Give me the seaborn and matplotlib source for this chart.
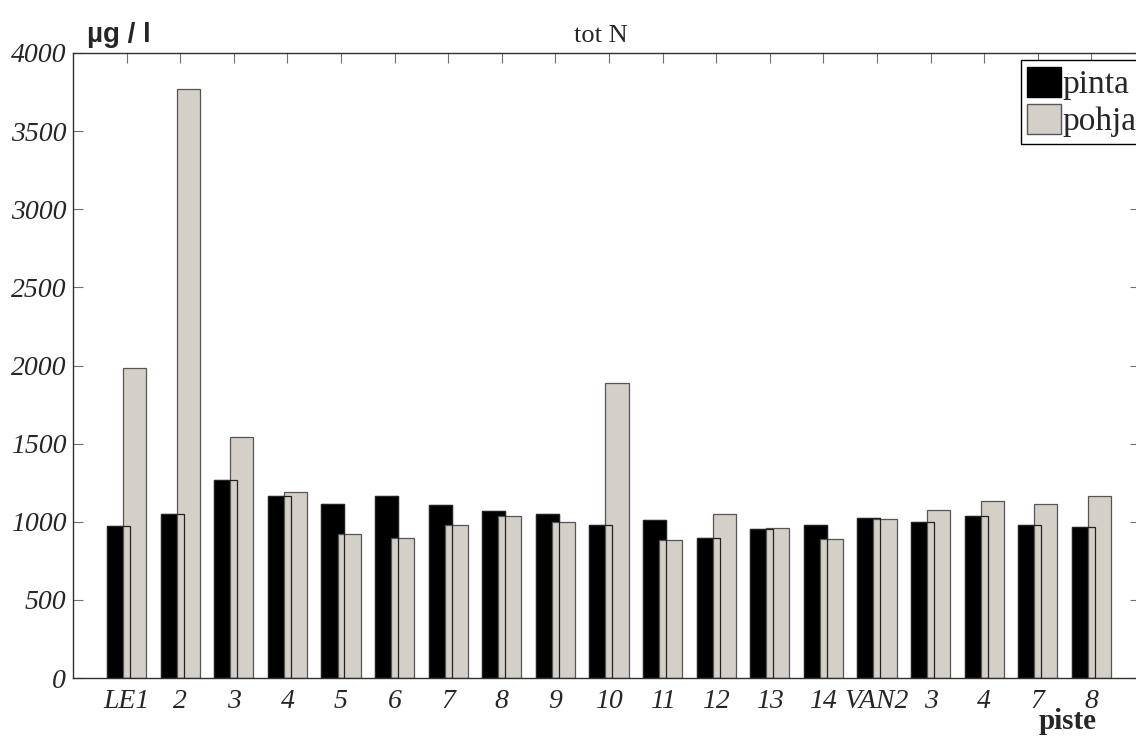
import matplotlib
matplotlib.use('Agg')
import matplotlib.pyplot as plt
import seaborn as sns
import numpy as np
import pandas as pd
from matplotlib.patches import Patch

# ---- data ----
sites = ['LE1', '2', '3', '4', '5', '6', '7', '8', '9', '10', '11', '12', '13',
         '14', 'VAN2', '3', '4', '7', '8']
pinta = [973, 1048, 1267, 1163, 1111, 1163, 1105, 1069, 1052, 977, 1011, 894,
         952, 977, 1026, 998, 1037, 977, 966]
pohja = [1984, 3768, 1542, 1188, 920, 898, 977, 1035, 998, 1888, 881, 1052,
         957, 888, 1015, 1073, 1131, 1114, 1163]
yticks = [0, 500, 1000, 1500, 2000, 2500, 3000, 3500, 4000]
series_names = ['pinta', 'pohja']

sns.set_style('ticks')
plt.rcParams['font.family'] = ['Liberation Serif', 'DejaVu Serif']

W, H = 1136, 736
fig = plt.figure(figsize=(W / 100, H / 100), dpi=100)
fig.patch.set_facecolor('white')
ax = fig.add_axes([73 / W, 1 - 678 / H, 1066.6 / W, 625 / H])

grey = '#d4d0c8'
edge_grey = '#555555'
idx = np.arange(1, len(sites) + 1)
df = pd.DataFrame({'pos_a': idx - 0.15, 'pos_b': idx + 0.15,
                   'pinta': pinta, 'pohja': pohja})

# pinta fill
sns.barplot(data=df, x='pos_a', y='pinta', native_scale=True, width=0.43,
            color='black', saturation=1, edgecolor='black', linewidth=0.9,
            errorbar=None, ax=ax, zorder=1)
# pohja on top
sns.barplot(data=df, x='pos_b', y='pohja', native_scale=True, width=0.43,
            color=grey, saturation=1, edgecolor=edge_grey, linewidth=0.9,
            errorbar=None, ax=ax, zorder=2)
# pinta outlines over pohja
sns.barplot(data=df, x='pos_a', y='pinta', native_scale=True, width=0.43,
            color='#222222', saturation=1, fill=False, linewidth=0.9,
            errorbar=None, ax=ax, zorder=3)

ax.set_xlim(0, 19.9)
ax.set_ylim(0, 4000)
ax.set_xlabel('')
ax.set_ylabel('')
ax.set_axisbelow(True)

ax.set_xticks(idx)
ax.set_xticklabels(sites, fontsize=20, fontstyle='italic')
ax.set_yticks(yticks)
ax.set_yticklabels([str(v) for v in yticks], fontsize=20, fontstyle='italic')

ax.tick_params(axis='both', direction='in', length=7, width=0.8,
               color='#707070', top=True, right=True,
               labeltop=False, labelright=False)
ax.tick_params(axis='y', pad=5)
ax.tick_params(axis='x', pad=8)

for s in ax.spines.values():
    s.set_visible(True)
    s.set_color('#303030')
    s.set_linewidth(1.0)

# texts
fig.text(87 / W, 1 - 42 / H, 'µg / l', family=['Liberation Sans', 'DejaVu Sans'],
         weight='bold', fontsize=20, ha='left', va='baseline')
fig.text(601 / W, 1 - 42 / H, 'tot N', fontsize=19, ha='center', va='baseline')
fig.text(1068 / W, 1 - 729 / H, 'piste', fontsize=21, weight='bold',
         ha='center', va='baseline')

# legend
handles = [Patch(facecolor='black', edgecolor='black', linewidth=1.0),
           Patch(facecolor=grey, edgecolor=edge_grey, linewidth=1.0)]
leg = fig.legend(handles, series_names, loc='upper left',
                 bbox_to_anchor=(1020.7 / W, 1 - 60 / H), borderaxespad=0,
                 fontsize=24, handlelength=1.0, handleheight=1.0,
                 handletextpad=0.05, labelspacing=0.12, borderpad=0.2,
                 fancybox=False, framealpha=1, edgecolor='black')
leg.get_frame().set_linewidth(1.0)

fig.savefig('out.png', dpi=100)
